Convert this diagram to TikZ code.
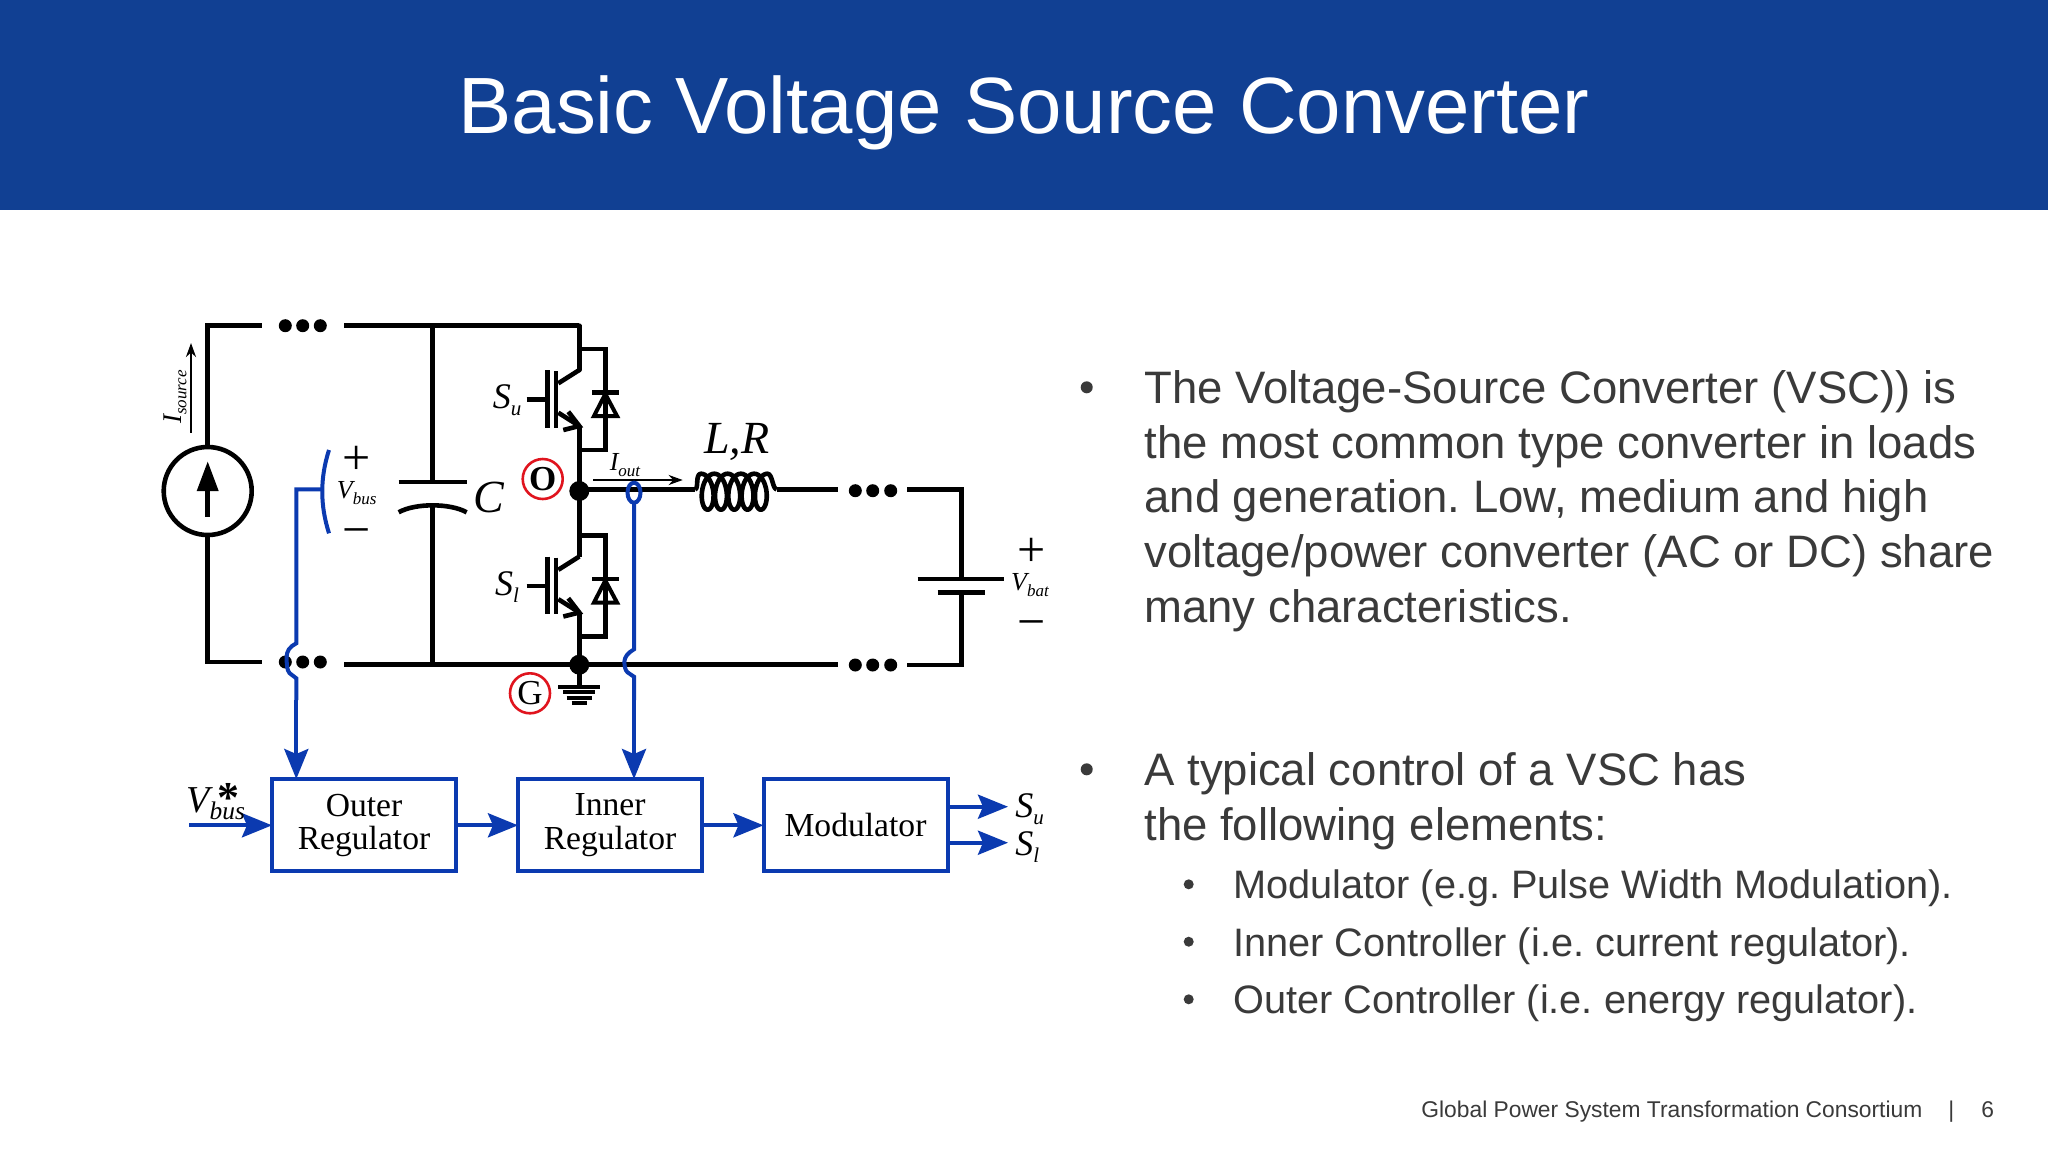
\documentclass[tikz,border=0pt]{standalone}
\usepackage{fontspec}
\setmainfont{Liberation Sans}
\newfontfamily\tserif{Liberation Serif}
\usetikzlibrary{arrows.meta,calc}
\definecolor{hdr}{HTML}{114093}
\definecolor{body}{HTML}{3A3A3A}
\definecolor{sig}{HTML}{0B3AB0}
\definecolor{mark}{HTML}{E0141E}
\newcommand{\fs}[1]{\fontsize{#1}{#1}\selectfont}
\newcommand{\sbs}[2]{\raisebox{-.2em}{\fs{#1}#2}}
\frenchspacing
\tikzset{
  wire/.style={line width=2.3pt,black},
  thinwire/.style={line width=1.2pt,black},
  sigwire/.style={line width=2pt,sig},
  sigarrow/.style={sigwire,-{Stealth[length=15pt,width=12pt,inset=2.5pt]}},
  block/.style={draw=sig,line width=2pt,fill=white,minimum width=92pt,minimum height=46pt,inner sep=0pt,outer sep=0pt,align=center,font=\tserif\fs{16.8pt},text=black},
  lab/.style={inner sep=0pt,text=black,font=\tserif\itshape},
  ring/.style={circle,draw=mark,line width=1.3pt,minimum size=20pt,inner sep=0pt,text=black,font=\tserif\fs{17.5pt}},
  para/.style={anchor=base west,inner sep=0pt,text=body,font=\fs{22.75pt}},
  subpara/.style={anchor=base west,inner sep=0pt,text=body,font=\fs{19.85pt}},
  foot/.style={anchor=base west,inner sep=0pt,text=body,font=\fs{11.4pt}},
  sym/.style={inner sep=0pt,text=black,font=\tserif}
}
\begin{document}
\begin{tikzpicture}[x=0.5pt,y=-0.5pt]
\useasboundingbox (0,0) rectangle (2048,1152);
\fill[white] (0,0) rectangle (2048,1152);
\fill[hdr] (0,0) rectangle (2048,210);
\node[anchor=base,inner sep=0pt,text=white,font=\fs{39.9pt}] (title) at (1024,133) {Basic Voltage Source Converter};

% text
\fill[body] (1086.7,387.3) circle (6);
\node[para] (p1) at (1144,403.7) {The Voltage-Source Converter (VSC)) is};
\node[para] (p2) at (1144,458.3) {the most common type converter in loads};
\node[para] (p3) at (1144,512.7) {and generation. Low, medium and high};
\node[para] (p4) at (1144,567.7) {voltage/power converter (AC or DC) share};
\node[para] (p5) at (1144,622) {many characteristics.};
\fill[body] (1086.7,769.3) circle (6);
\node[para] (q1) at (1144,785.5) {A typical control of a VSC has};
\node[para] (q2) at (1144,840.5) {the following elements:};
\fill[body] (1188.7,884.3) circle (5);
\fill[body] (1188.7,941.7) circle (5);
\fill[body] (1188.7,999.3) circle (5);
\node[subpara] (r1) at (1233,898.8) {Modulator (e.g. Pulse Width Modulation).};
\node[subpara] (r2) at (1233,956.2) {Inner Controller (i.e. current regulator).};
\node[subpara] (r3) at (1233,1013.5) {Outer Controller (i.e. energy regulator).};
\node[foot] (f1) at (1421,1117) {Global Power System Transformation Consortium};
\node[foot] (f2) at (1948,1117) {|};
\node[foot] (f3) at (1981,1117) {6};

% named points
\coordinate (tl) at (207.7,325.7);
\coordinate (tla) at (261.7,325.7);
\coordinate (tlb) at (344,325.7);
\coordinate (tr) at (579.3,325.7);
\coordinate (bl) at (207.7,662);
\coordinate (bla) at (261.7,662);
\coordinate (blb) at (344,664.7);
\coordinate (bo) at (579.3,664.7);
\coordinate (oo) at (579.3,491);
\coordinate (capt) at (432.7,325.7);
\coordinate (capb) at (432.7,664.7);
\coordinate (blc) at (838.3,664.7);
\coordinate (bld) at (907.3,665);
\coordinate (brc) at (961.7,665);
\coordinate (trc) at (961.7,489.3);
\coordinate (trd) at (907.3,489.3);
\coordinate (tre) at (838.3,489.3);
\coordinate (indr) at (776.7,489.3);
\coordinate (indl) at (695,489.3);
\coordinate (gnd) at (579.3,686.7);

% source
\node[circle,draw=black,line width=2.3pt,minimum size=44pt,inner sep=0pt,outer sep=0pt] (src) at (207.7,491) {};
\draw[wire] (src.north) -- (tl) -- (tla);
\draw[wire] (src.south) -- (bl) -- (bla);
\draw[wire] (207.7,516.7) -- (207.7,490);
\fill (207.7,461.7) -- (218.7,491) -- (196.7,491) -- cycle;
\draw[thinwire,-{Stealth[length=7pt,width=5pt]}] (191,432.7) -- (191,343);
\node[lab,rotate=90] (isrc) at (175,397) {\fs{13.5pt}I\sbs{8.5pt}{source}};

% dots
\foreach \x in {285.3,302.7,320.3}{\fill (\x,325.7) circle (6.5); \fill (\x,662) circle (6.5);}
\foreach \x in {855.3,872.7,890.7}{\fill (\x,490.7) circle (6.5); \fill (\x,665) circle (6.5);}

% bus wires
\draw[wire] (tlb) -- (tr);
\draw[wire] (blb) -- (bo) -- (blc);
\draw[wire,line cap=round] (tr) -- (579.3,370);
\draw[wire] (579.3,426) -- (579.3,556.7);
\draw[wire] (579.3,612.7) -- (bo) -- (gnd);

% capacitor
\draw[wire] (capt) -- (432.7,482);
\draw[wire] (398.7,482) -- (466.7,482);
\draw[wire] (398.7,512.3) .. controls (415,503) and (450,503) .. (466.7,512.3);
\draw[wire] (432.7,503) -- (capb);
\node[lab] (clab) at (489,497) {\fs{23pt}C};

% switches
\foreach \dy in {0,186.5}{
\begin{scope}[shift={(0,\dy)}]
\draw[wire] (579.3,370) -- (558.3,383.3);
\draw[wire] (556,371) -- (556,427.7);
\draw[wire] (547.3,370) -- (547.3,427.7);
\draw[wire] (526.7,399.3) -- (547.3,399.3);
\draw[wire] (558.3,412.7) -- (579.3,426);
\draw[wire] (568.3,411.7) -- (579.3,426) -- (563.3,430);
\draw[wire] (579.3,349) -- (605.3,349) -- (605.3,450) -- (579.3,450);
\draw[wire] (592.3,392.3) -- (619,392.3);
\draw[line width=2pt,fill=white,line join=miter] (605.3,394) -- (594,416) -- (617,416) -- cycle;
\draw[wire] (605.3,392) -- (605.3,418);
\end{scope}}
\node[lab] (su) at (507,400) {\fs{18pt}S\sbs{10.5pt}{u}};
\node[lab] (sl) at (507,587) {\fs{18pt}S\sbs{10.5pt}{l}};
\fill (oo) circle (10);
\fill (bo) circle (10);
\node[ring] (olab) at (542.7,479) {\bfseries O};
\node[ring] (glab) at (530,693.3) {G};

% ground
\draw[line width=2pt] (558.3,686.7) -- (600,686.7);
\draw[line width=2pt] (563.3,692.3) -- (595,692.3);
\draw[line width=2pt] (566.7,697.5) -- (591.7,697.5);
\draw[line width=2pt] (571.7,702.7) -- (586.7,702.7);

% output wire and inductor
\draw[wire] (oo) -- (579.3,489.3) -- (indl);
\draw[wire,line join=round] (indl) .. controls (699,489.3) and (695,473.7) .. (701,473.7)
  -- plot[domain=0:1800,samples=181] ({701+0.036944*\x+9*sin(\x)},{491.7-18*cos(\x)})
  .. controls (772.5,473.7) and (772.5,489.3) .. (indr);
\draw[wire] (indr) -- (tre);
\node[lab] (lr) at (737,442) {\fs{23pt}L,R};
\draw[thinwire,-{Stealth[length=7pt,width=5pt]}] (593.3,480) -- (682.7,480);
\node[lab] (iout) at (625,465) {\fs{13pt}I\sbs{8.5pt}{out}};

% battery
\draw[wire] (trd) -- (trc) -- (961.7,579);
\draw[wire] (917.7,579) -- (1004,579);
\draw[wire] (937.7,592.3) -- (985,592.3);
\draw[wire] (961.7,592.3) -- (brc) -- (bld);

% voltage labels
\node[sym] (vbp) at (356.7,460.5) {\fs{25pt}+};
\node[lab] (vb) at (356.7,493) {\fs{13pt}V\sbs{8.5pt}{bus}};
\node[sym] (vbm) at (356.7,538) {\fs{25pt}−};
\node[sym] (vap) at (1031.7,552) {\fs{25pt}+};
\node[lab] (va) at (1030,585) {\fs{13pt}V\sbs{8.5pt}{bat}};
\node[sym] (vam) at (1031.7,629.5) {\fs{25pt}−};

% blocks
\node[block] (outer) at (364,825.3) {Outer\\Regulator};
\node[block] (inner) at (610,825.3) {Inner\\Regulator};
\node[block] (modu) at (855.5,825.3) {Modulator};

% sensing lines
\draw[sigwire] (329,450) .. controls (320,478) and (320,505) .. (329,533.3);
\draw[sigwire] (323,489.3) -- (296.3,489.3) -- (296.3,643.3) -- (292,646)
  .. controls (287,650) and (286,655) .. (286.7,662) .. controls (287,669) and (288,673) .. (292,675)
  -- (296.3,678.3) -- (296.3,700);
\draw[sigarrow] (296.3,700) -- (296.3,779);
\draw[sigwire] (634,492.7) ellipse (6.5 and 10);
\draw[sigwire] (634,502.7) -- (634,649.3) -- (630,652)
  .. controls (625,656) and (624,660) .. (624.5,664.5) .. controls (625,669) and (626,672) .. (630,674)
  -- (634,676.7) -- (634,700);
\draw[sigarrow] (634,700) -- (634,779);

% forward path
\coordinate (vin) at (189.3,825.3);
\coordinate (suo) at (1008,806.7);
\coordinate (slo) at (1008,842.7);
\draw[sigarrow] (vin) -- (outer.west);
\draw[sigarrow] (outer.east) -- (inner.west);
\draw[sigarrow] (inner.east) -- (modu.west);
\draw[sigarrow] (modu.east |- suo) -- (suo);
\draw[sigarrow] (modu.east |- slo) -- (slo);
\node[lab,anchor=west] (sua) at (1015,809) {\fs{18pt}S\sbs{10.5pt}{u}};
\node[lab,anchor=west] (sla) at (1015,847) {\fs{18pt}S\sbs{10.5pt}{l}};
\node[lab,anchor=base west] (vref) at (186,812) {\fs{19pt}V\rlap{\kern4pt{\upshape\bfseries\fs{22pt}*}}\sbs{12.7pt}{bus}};
\end{tikzpicture}
\end{document}
